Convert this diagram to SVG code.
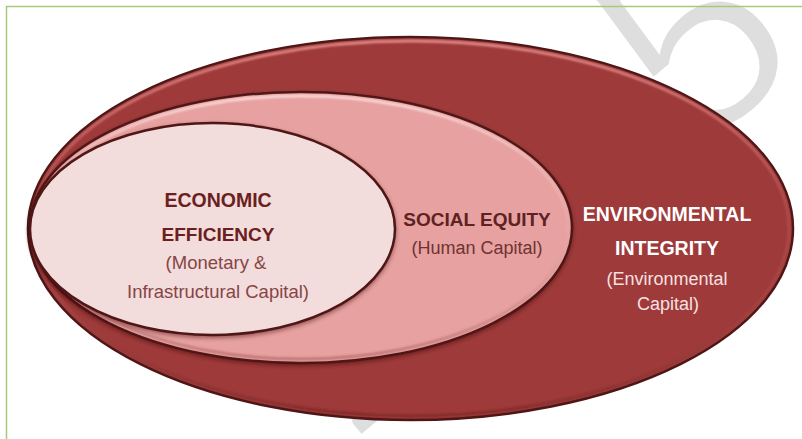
<svg xmlns="http://www.w3.org/2000/svg" width="802" height="439" viewBox="0 0 802 439">
<style>
.edge{stroke:#4f1616;stroke-width:2.5}
.hl{fill:none;stroke-width:2.5;filter:url(#soft)}
.b{font-family:"Liberation Sans",Arial,sans-serif;font-weight:bold;text-anchor:middle}
.r{font-family:"Liberation Sans",Arial,sans-serif;text-anchor:middle}
</style>
<defs>
<filter id="soft" x="-5%" y="-5%" width="110%" height="110%"><feGaussianBlur stdDeviation="0.8"/></filter>
<filter id="shadow" x="-5%" y="-5%" width="110%" height="115%"><feDropShadow dx="0" dy="2" stdDeviation="2" flood-color="#3a0a0a" flood-opacity="0.45"/></filter>
<linearGradient id="hlOuter" x1="0" y1="0" x2="0" y2="1">
<stop offset="0" stop-color="#f09a9a" stop-opacity="0.95"/>
<stop offset="0.45" stop-color="#e07a7a" stop-opacity="0.3"/>
<stop offset="1" stop-color="#6a1f1f" stop-opacity="0.6"/>
</linearGradient>
<linearGradient id="hlMid" x1="0" y1="0" x2="0" y2="1">
<stop offset="0" stop-color="#ffe0e0" stop-opacity="0.95"/>
<stop offset="0.45" stop-color="#f5c0c0" stop-opacity="0.3"/>
<stop offset="1" stop-color="#a05050" stop-opacity="0.6"/>
</linearGradient>
</defs>
<rect x="0" y="0" width="802" height="439" fill="#ffffff"/>
<g id="watermark">
<text transform="translate(811,60) rotate(-40)" font-family="Liberation Sans,Arial,sans-serif" font-size="270" fill="#dedede" stroke="#ffffff" stroke-width="5" text-anchor="end">2015</text>
</g>
<rect x="6.5" y="6.5" width="820" height="460" fill="none" stroke="#a9c97a" stroke-width="1.5"/>
<g id="environmental-integrity">
<ellipse cx="410.5" cy="228.5" rx="382.5" ry="191.5" fill="#9e3a3a" class="edge"/>
<ellipse cx="410.5" cy="228.5" rx="378.5" ry="187.5" class="hl" stroke="url(#hlOuter)"/>
<text class="b" x="667" y="221" font-size="19.5" fill="#ffffff">ENVIRONMENTAL</text>
<text class="b" x="667" y="255" font-size="19.5" fill="#ffffff">INTEGRITY</text>
<text class="r" x="667" y="285" font-size="18" fill="#f7e0e0">(Environmental</text>
<text class="r" x="668" y="310" font-size="18" fill="#f7e0e0">Capital)</text>
</g>
<g id="social-equity">
<ellipse cx="301" cy="227.5" rx="271" ry="135.5" fill="#e6a1a0" class="edge" filter="url(#shadow)"/>
<ellipse cx="301" cy="227.5" rx="267" ry="131.5" class="hl" stroke="url(#hlMid)"/>
<text class="b" x="477" y="226" font-size="19" fill="#5e2222">SOCIAL EQUITY</text>
<text class="r" x="477" y="254" font-size="18" fill="#6e3333">(Human Capital)</text>
</g>
<g id="economic-efficiency">
<ellipse cx="212.5" cy="229" rx="182.5" ry="106" fill="#f2dcdc" class="edge" filter="url(#shadow)"/>
<text class="b" x="218" y="207" font-size="19.5" fill="#6b2020">ECONOMIC</text>
<text class="b" x="218" y="241" font-size="19" fill="#6b2020">EFFICIENCY</text>
<text class="r" x="216" y="269" font-size="18.5" fill="#874545">(Monetary &amp;</text>
<text class="r" x="218" y="298" font-size="18.5" fill="#874545">Infrastructural Capital)</text>
</g>
<g id="connectors"></g>
</svg>
